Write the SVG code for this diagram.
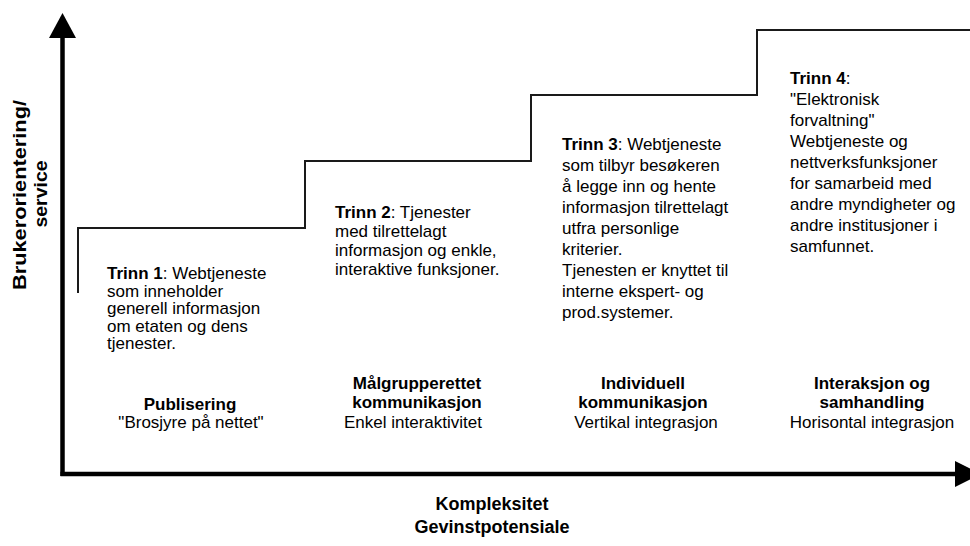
<svg xmlns="http://www.w3.org/2000/svg" width="970" height="546" viewBox="0 0 970 546">
<style>
  text { font-family: "Liberation Sans", Arial, sans-serif; fill: #000; }
  .body { font-size: 17px; }
  .b { font-weight: bold; }
  .lbl { font-size: 17px; font-weight: bold; text-anchor: middle; }
  .sub { font-size: 17px; text-anchor: middle; }
  .axislbl { font-size: 18px; font-weight: bold; text-anchor: middle; }
  .axis { stroke: #000; stroke-width: 4.5; fill: none; }
  .step { stroke: #1a1a1a; stroke-width: 2; fill: none; }
</style>
<rect width="970" height="546" fill="#fff"/>

<g id="axes">
  <line class="axis" x1="62.5" y1="476" x2="62.5" y2="34"/>
  <polygon points="62.5,13 49,38 76,38" fill="#000"/>
  <line class="axis" x1="60.5" y1="474" x2="958" y2="474"/>
  <polygon points="955,461 981,474 955,487" fill="#000"/>
</g>

<g id="steps">
  <path class="step" d="M78,293 V228 H305 V161 H531 V95 H757 V30 H972"/>
</g>

<g id="y-label">
  <text class="axislbl" transform="translate(26,195) rotate(-90)" font-size="19" textLength="190" lengthAdjust="spacingAndGlyphs">Brukerorientering/</text>
  <text class="axislbl" transform="translate(47,194) rotate(-90)" font-size="19" textLength="67" lengthAdjust="spacingAndGlyphs">service</text>
</g>

<g id="x-label">
  <text class="axislbl" x="492" y="510">Kompleksitet</text>
  <text class="axislbl" x="492" y="533">Gevinstpotensiale</text>
</g>

<g id="trinn1">
  <text class="body" x="107" y="279"><tspan class="b">Trinn 1</tspan>: Webtjeneste</text>
  <text class="body" x="107" y="296.5">som inneholder</text>
  <text class="body" x="107" y="314">generell informasjon</text>
  <text class="body" x="107" y="331.5">om etaten og dens</text>
  <text class="body" x="107" y="349">tjenester.</text>
</g>

<g id="trinn2">
  <text class="body" x="335" y="218"><tspan class="b">Trinn 2</tspan>: Tjenester</text>
  <text class="body" x="335" y="237">med tilrettelagt</text>
  <text class="body" x="335" y="256">informasjon og enkle,</text>
  <text class="body" x="335" y="275">interaktive funksjoner.</text>
</g>

<g id="trinn3">
  <text class="body" x="562" y="150"><tspan class="b">Trinn 3</tspan>: Webtjeneste</text>
  <text class="body" x="562" y="171">som tilbyr besøkeren</text>
  <text class="body" x="562" y="192">å legge inn og hente</text>
  <text class="body" x="562" y="213">informasjon tilrettelagt</text>
  <text class="body" x="562" y="234">utfra personlige</text>
  <text class="body" x="562" y="255">kriterier.</text>
  <text class="body" x="562" y="276">Tjenesten er knyttet til</text>
  <text class="body" x="562" y="297">interne ekspert- og</text>
  <text class="body" x="562" y="318">prod.systemer.</text>
</g>

<g id="trinn4">
  <text class="body" x="790" y="84"><tspan class="b">Trinn 4</tspan>:</text>
  <text class="body" x="790" y="105">"Elektronisk</text>
  <text class="body" x="790" y="126">forvaltning"</text>
  <text class="body" x="790" y="147">Webtjeneste og</text>
  <text class="body" x="790" y="168">nettverksfunksjoner</text>
  <text class="body" x="790" y="189">for samarbeid med</text>
  <text class="body" x="790" y="210">andre myndigheter og</text>
  <text class="body" x="790" y="231">andre institusjoner i</text>
  <text class="body" x="790" y="252">samfunnet.</text>
</g>

<g id="publisering">
  <text class="lbl" x="190" y="410">Publisering</text>
  <text class="sub" x="191" y="428">"Brosjyre på nettet"</text>
</g>

<g id="malgruppe">
  <text class="lbl" x="417" y="389">Målgrupperettet</text>
  <text class="lbl" x="417" y="408">kommunikasjon</text>
  <text class="sub" x="413" y="428">Enkel interaktivitet</text>
</g>

<g id="individuell">
  <text class="lbl" x="643" y="389">Individuell</text>
  <text class="lbl" x="643" y="408">kommunikasjon</text>
  <text class="sub" x="646" y="428">Vertikal integrasjon</text>
</g>

<g id="interaksjon">
  <text class="lbl" x="872" y="389">Interaksjon og</text>
  <text class="lbl" x="872" y="408">samhandling</text>
  <text class="sub" x="872" y="428">Horisontal integrasjon</text>
</g>
</svg>
